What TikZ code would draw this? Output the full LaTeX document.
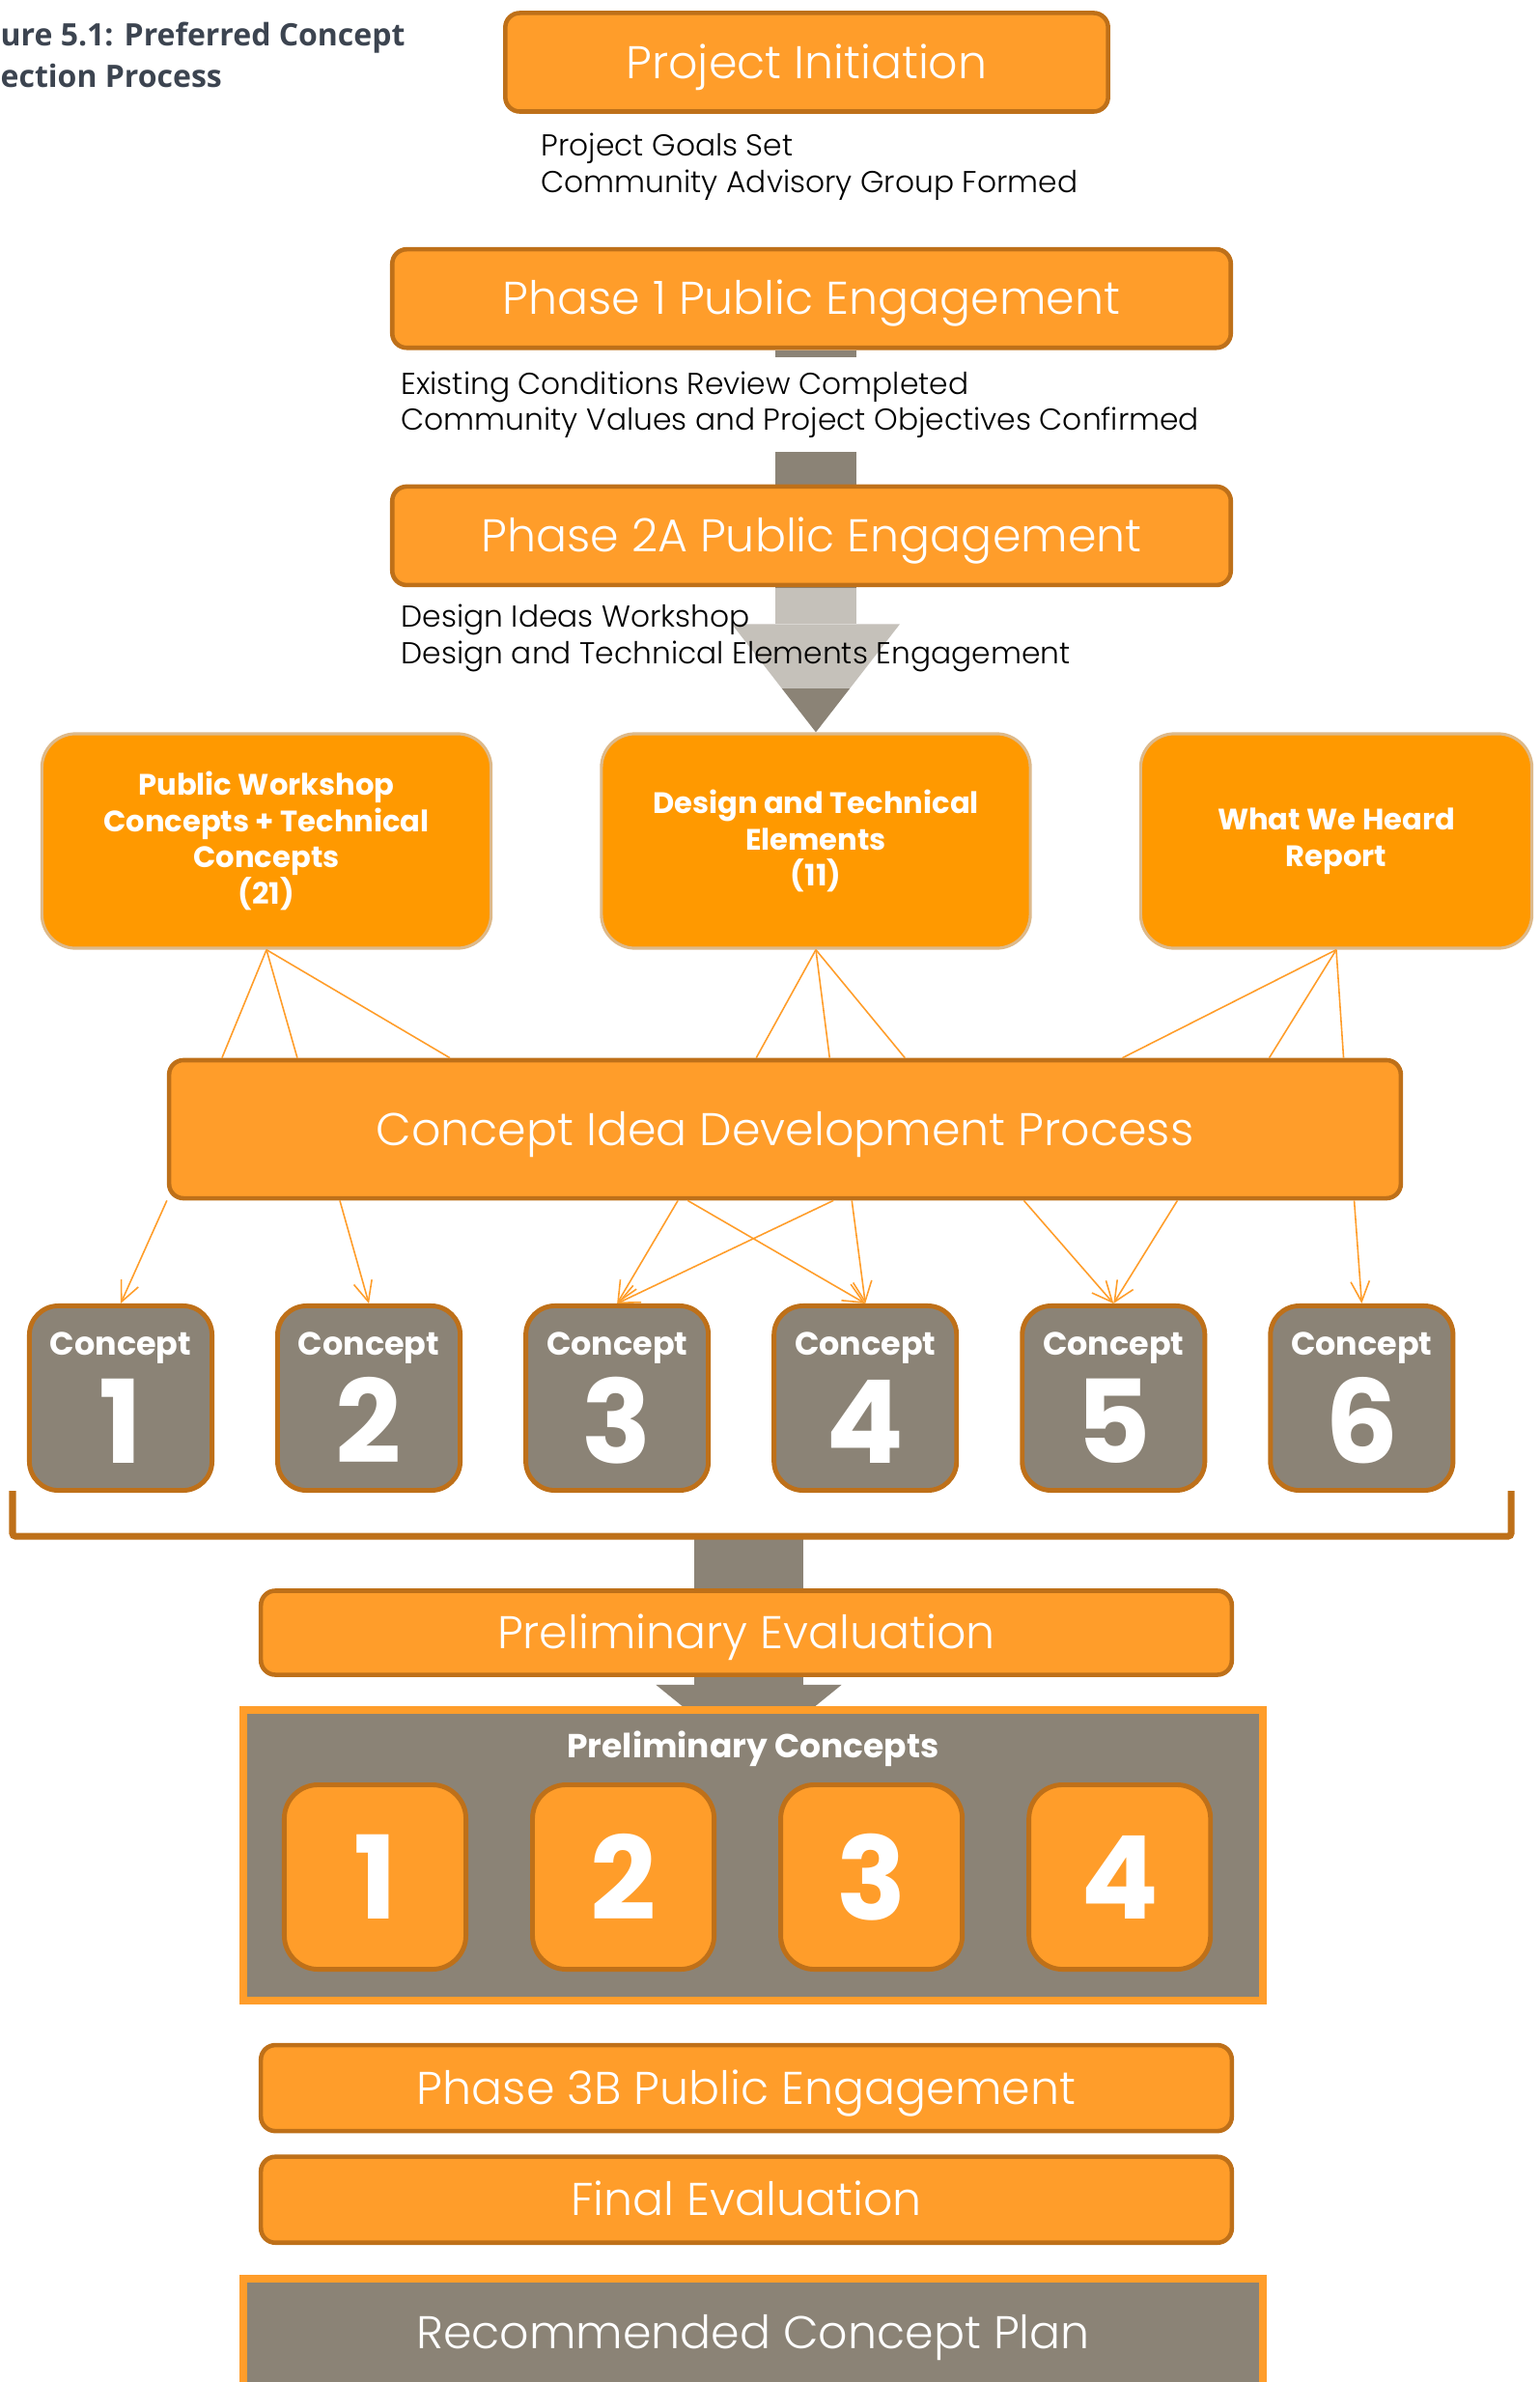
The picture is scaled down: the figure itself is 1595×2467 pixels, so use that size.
\documentclass[tikz,border=0pt]{standalone}
\usepackage{fontspec}
\setmainfont{Poppins}
\newfontfamily\lightfont{Poppins}[UprightFont=* Light]
\newfontfamily\captionfont{Open Sans}
\usepackage{tikz}
\usetikzlibrary{arrows.meta,positioning,backgrounds}
\definecolor{PlanOrange}{HTML}{FF9D2A}
\definecolor{PlanAmber}{HTML}{FF9900}
\definecolor{PlanBrown}{HTML}{BE7019}
\definecolor{PlanTan}{HTML}{DDB98A}
\definecolor{PlanGray}{HTML}{8B8376}
\definecolor{PlanSlate}{HTML}{3C4450}
\newcommand\PlanNum[1]{{\fontsize{34}{31.9}\selectfont #1}}

\begin{document}
\begin{tikzpicture}[
  x=0.01cm, y=-0.01cm,
  stage/.style={draw=PlanBrown, fill=PlanOrange, line width=1.3pt, rounded corners=0.15cm, text=white, font=\lightfont\fontsize{13.5}{15}\selectfont, text height=9.4pt, text depth=0pt, inner sep=0},
  note/.style={fill=white, inner sep=0, align=left, text=black, font=\lightfont\fontsize{8.9}{10.75}\selectfont, minimum height=0.98cm},
  source/.style={draw=PlanTan, fill=PlanAmber, line width=0.9pt, rounded corners=0.35cm, text=white, align=center, font=\bfseries\fontsize{8.7}{10.75}\selectfont, minimum height=2.22cm, inner sep=0},
  concept/.style={draw=PlanBrown, fill=PlanGray, line width=1.4pt, rounded corners=0.3cm, minimum width=1.89cm, minimum height=1.91cm, text=white, align=center, font=\bfseries\fontsize{9.5}{31.9}\selectfont, inner sep=0},
  shortlist/.style={concept, fill=PlanOrange, rounded corners=0.35cm, minimum width=1.88cm},
  panel/.style={draw=PlanOrange, fill=PlanGray, line width=2.2pt, minimum width=10.56cm, text=white, inner sep=0},
  feed/.style={draw=PlanOrange, line width=0.45pt},
  feedarrow/.style={feed, -{Straight Barb[length=6pt, width=5.5pt]}},
  flow/.style={draw=PlanGray, line width=0.83cm, -{Triangle[length=1.12cm, width=1.74cm, line width=0pt]}},
  funnel/.style={draw=PlanGray, line width=1.13cm, -{Triangle[length=0.78cm, width=1.92cm, line width=0pt]}},
  bracket/.style={draw=PlanBrown, line width=2pt, rounded corners=0.03cm}
]
\useasboundingbox (0,0) rectangle (1595,2467);

\node[font=\captionfont\bfseries\fontsize{9.1}{12.5}\selectfont, text=PlanSlate, align=left, anchor=base west, inner sep=0] (figtitle) at (0,91) {ure 5.1: Preferred Concept\\ection Process};

% engagement stages
\node[stage, minimum width=6.24cm, minimum height=1.02cm] (init) at (835.5,64.5) {Project Initiation};
\node[stage, minimum width=8.68cm, minimum height=1.02cm, below=1.38cm of init, xshift=0.05cm] (phase1) {Phase 1 Public Engagement};
\node[stage, minimum width=8.68cm, minimum height=1.02cm, below=1.39cm of phase1] (phase2a) {Phase 2A Public Engagement};

\node[note, anchor=north west, below right=0cm and 0.39cm of init.south west, yshift=-0.05cm] (goals) {Project Goals Set\\Community Advisory Group Formed};
\node[note, anchor=north west, below right=0cm and 0.11cm of phase1.south west, yshift=-0.07cm] (review) {Existing Conditions Review Completed\\Community Values and Project Objectives Confirmed};

% idea sources
\node[source, minimum width=4.65cm] (srcA) at (276,871) {Public Workshop\\Concepts + Technical\\Concepts\\(21)};
\node[source, minimum width=4.44cm, right=1.11cm of srcA] (srcB) {Design and Technical\\Elements\\(11)};
\node[source, minimum width=4.05cm, right=1.11cm of srcB] (srcC) {What We Heard\\Report};

\node[note, anchor=north west, below right=0cm and 0.11cm of phase2a.south west, minimum height=1.04cm, fill opacity=0.5, text opacity=1] (workshop) {Design Ideas Workshop\\Design and Technical Elements Engagement};

\node[stage, minimum width=12.75cm, minimum height=1.43cm] (cidp) at (813,1169.5) {Concept Idea Development Process};

% concepts
\node[concept] (c1) at (125,1448) {Concept\\\PlanNum{1}};
\node[concept, right=0.63cm of c1] (c2) {Concept\\\PlanNum{2}};
\node[concept, right=0.63cm of c2] (c3) {Concept\\\PlanNum{3}};
\node[concept, right=0.63cm of c3] (c4) {Concept\\\PlanNum{4}};
\node[concept, right=0.63cm of c4] (c5) {Concept\\\PlanNum{5}};
\node[concept, right=0.63cm of c5] (c6) {Concept\\\PlanNum{6}};

\coordinate (sortbase) at (775.5,1591);
\coordinate (funneltip) at (775.5,1823);

% evaluation
\node[stage, minimum width=10.05cm, minimum height=0.87cm] (evalA) at (773,1691) {Preliminary Evaluation};
\node[panel, minimum height=3.01cm, below=0.30cm of evalA, xshift=0.07cm] (prelimset) {};
\node[inner sep=0, text=white, font=\bfseries\fontsize{9.8}{11}\selectfont, below=0.25cm of prelimset.north] (prelimtitle) {Preliminary Concepts};
\node[shortlist] (p1) at (388.5,1944) {\PlanNum{1}};
\node[shortlist, right=0.64cm of p1] (p2) {\PlanNum{2}};
\node[shortlist, right=0.64cm of p2] (p3) {\PlanNum{3}};
\node[shortlist, right=0.64cm of p3] (p4) {\PlanNum{4}};

\node[stage, minimum width=10.05cm, minimum height=0.89cm, below=0.40cm of prelimset, xshift=-0.07cm] (phase3b) {Phase 3B Public Engagement};
\node[stage, minimum width=10.05cm, minimum height=0.89cm, below=0.22cm of phase3b] (finaleval) {Final Evaluation};
\node[panel, minimum height=1.12cm, below=0.31cm of finaleval, xshift=0.07cm, font=\lightfont\fontsize{13.5}{15}\selectfont, text height=9.4pt, text depth=0pt] (recplan) {Recommended Concept Plan};

\begin{pgfonlayer}{background}
\draw[flow] (phase1.south -| srcB.north) -- (srcB.north);
\draw[funnel] (sortbase) -- (funneltip);
\end{pgfonlayer}

\draw[bracket] (13,1544) |- (sortbase) -| (1565,1544);

\draw[feed] (srcA.south) -- ([xshift=0.57cm]cidp.north west);
\draw[feed] (srcA.south) -- ([xshift=1.35cm]cidp.north west);
\draw[feed] (srcA.south) -- ([xshift=2.93cm]cidp.north west);
\draw[feed] (srcB.south) -- ([xshift=6.10cm]cidp.north west);
\draw[feed] (srcB.south) -- ([xshift=6.86cm]cidp.north west);
\draw[feed] (srcB.south) -- ([xshift=7.64cm]cidp.north west);
\draw[feed] (srcC.south) -- ([xshift=9.89cm]cidp.north west);
\draw[feed] (srcC.south) -- ([xshift=11.41cm]cidp.north west);
\draw[feed] (srcC.south) -- ([xshift=12.18cm]cidp.north west);

\draw[feedarrow] (cidp.south west) -- (c1.north);
\draw[feedarrow] ([xshift=1.79cm]cidp.south west) -- (c2.north);
\draw[feedarrow] ([xshift=5.29cm]cidp.south west) -- (c3.north);
\draw[feedarrow] ([xshift=6.90cm]cidp.south west) -- (c3.north);
\draw[feedarrow] ([xshift=5.39cm]cidp.south west) -- (c4.north);
\draw[feedarrow] ([xshift=7.09cm]cidp.south west) -- (c4.north);
\draw[feedarrow] ([xshift=8.87cm]cidp.south west) -- (c5.north);
\draw[feedarrow] ([xshift=10.46cm]cidp.south west) -- (c5.north);
\draw[feedarrow] ([xshift=12.29cm]cidp.south west) -- (c6.north);
\end{tikzpicture}
\end{document}
